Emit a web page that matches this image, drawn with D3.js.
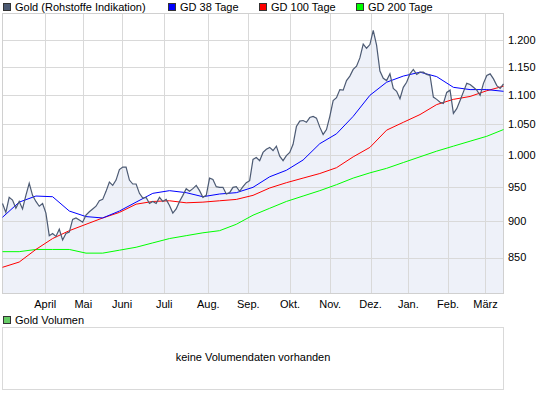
<!DOCTYPE html>
<html>
  <head>
    <script src="https://d3js.org/d3.v7.min.js"></script>
    <style>
      body { margin: 0; background: #fff; }
      text { font-family: Arial, "Liberation Sans", sans-serif; font-size: 11px; fill: #000; }
    </style>
  </head>
  <body>
    <div id="chart"></div>
  <script>
    var width = 545,
        height = 395;

    // gold close, one value per sample step
    var gold = [926, 913, 935, 931, 919, 929, 918, 938, 956, 938,
                929, 922, 926, 912, 880, 883, 879, 889, 874, 883,
                885, 903, 905, 902, 899, 909, 914, 918, 922, 930,
                932, 944, 958, 953, 961, 977, 981, 981, 961, 955,
                955, 941, 934, 935, 926, 929, 926, 935, 929, 932,
                923, 912, 918, 929, 938, 948, 944, 948, 953, 945,
                935, 938, 964, 962, 951, 950, 950, 940, 942, 950,
                951, 944, 951, 957, 960, 993, 996, 991, 1004, 1009,
                1012, 1007, 1014, 998, 991, 999, 1004, 1017, 1046, 1055,
                1056, 1053, 1061, 1063, 1060, 1045, 1033, 1041, 1063, 1090,
                1095, 1109, 1108, 1125, 1133, 1145, 1151, 1166, 1192, 1184,
                1191, 1218, 1190, 1142, 1129, 1125, 1137, 1111, 1106, 1093,
                1113, 1122, 1137, 1145, 1136, 1140, 1140, 1136, 1134, 1096,
                1092, 1087, 1085, 1104, 1108, 1068, 1076, 1090, 1105, 1120,
                1118, 1113, 1108, 1099, 1120, 1134, 1137, 1128, 1116, 1111,
                1119];

    // moving averages, every 5th sample
    var gd38 = [906, 928, 937, 936, 915, 907, 905, 915, 928, 941,
                945, 942, 936, 940, 942, 950, 966, 976, 992, 1018,
                1034, 1063, 1099, 1122, 1133, 1140, 1132, 1113, 1109, 1109,
                1106];
    var gd100 = [837, 844, 861, 876, 887, 896, 905, 913, 925, 929,
                 930, 927, 928, 930, 932, 938, 949, 957, 964, 971,
                 980, 997, 1012, 1040, 1053, 1066, 1083, 1092, 1097, 1107,
                 1115];
    var gd200 = [858, 858, 861, 861, 861, 856, 856, 860, 864, 870,
                 876, 880, 884, 887, 896, 909, 919, 929, 937, 945,
                 954, 964, 972, 979, 988, 997, 1006, 1014, 1022, 1030,
                 1041];

    var monthLabels = ["April", "Mai", "Juni", "Juli", "Aug.", "Sep.", "Okt.", "Nov.", "Dez.", "Jan.", "Feb.", "März"];
    var monthIdx = [12.8, 24.2, 35.8, 48.4, 61.6, 73.6, 86.1, 98.1, 110.2, 121.5, 133.4, 144.6];
    var yTicks = [850, 900, 950, 1000, 1050, 1100, 1150, 1200];

    var legendItems = [
      {name: "Gold (Rohstoffe Indikation)", color: "#4c5a73"},
      {name: "GD 38 Tage", color: "#0000ff"},
      {name: "GD 100 Tage", color: "#ff0000"},
      {name: "GD 200 Tage", color: "#00ff00"}
    ];
    var legendX = [3, 168, 259, 356];

    var plotL = 2.5, plotR = 503.5, plotT = 13.5, plotB = 293.5;

    var svg = d3.select("#chart").append("svg")
        .attr("width", width)
        .attr("height", height);

    var x = d3.scaleLinear().domain([0, gold.length - 1]).range([plotL, plotR]);
    var y = d3.scaleLog().domain([803, 1251]).range([plotB, plotT]);

    var de = d3.formatLocale({decimal: ",", thousands: ".", grouping: [3], currency: ["", " €"]});
    var fmt = de.format(",d");

    // fill under the gold line
    var area = d3.area()
        .x(function(d, i) { return x(i); })
        .y0(plotB)
        .y1(function(d) { return y(d); });

    svg.append("path")
        .datum(gold)
        .attr("d", area)
        .attr("fill", "#eef1f9");

    // grid
    var grid = svg.append("g");
    grid.selectAll("line.h")
        .data(yTicks)
        .enter().append("line")
        .attr("x1", plotL).attr("x2", plotR)
        .attr("y1", function(d) { return Math.round(y(d)) + 0.5; })
        .attr("y2", function(d) { return Math.round(y(d)) + 0.5; })
        .attr("stroke", "#d9d9d9");
    grid.selectAll("line.v")
        .data(monthIdx)
        .enter().append("line")
        .attr("x1", function(d) { return Math.round(x(d)) + 0.5; })
        .attr("x2", function(d) { return Math.round(x(d)) + 0.5; })
        .attr("y1", plotT).attr("y2", plotB)
        .attr("stroke", "#d9d9d9");

    svg.append("rect")
        .attr("x", plotL).attr("y", plotT)
        .attr("width", plotR - plotL).attr("height", plotB - plotT)
        .attr("fill", "none")
        .attr("stroke", "#d0d0d0");

    // moving averages
    var maLine = d3.line()
        .x(function(d, i) { return x(i * 5); })
        .y(function(d) { return y(d); });

    [[gd200, "#00ff00"], [gd100, "#ff0000"], [gd38, "#0000ff"]].forEach(function(s) {
      svg.append("path")
          .datum(s[0])
          .attr("d", maLine)
          .attr("fill", "none")
          .attr("stroke", s[1])
          .attr("stroke-width", 1);
    });

    // gold line
    var line = d3.line()
        .x(function(d, i) { return x(i); })
        .y(function(d) { return y(d); });

    svg.append("path")
        .datum(gold)
        .attr("d", line)
        .attr("fill", "none")
        .attr("stroke", "#4c5a73")
        .attr("stroke-width", 1.2);

    // y axis labels on the right
    svg.selectAll("text.ylab")
        .data(yTicks)
        .enter().append("text")
        .attr("x", 508)
        .attr("y", function(d) { return y(d); })
        .attr("dy", "0.35em")
        .text(function(d) { return fmt(d); });

    // month labels
    svg.selectAll("text.xlab")
        .data(monthIdx)
        .enter().append("text")
        .attr("x", function(d) { return x(d); })
        .attr("y", 304)
        .attr("dy", "0.35em")
        .attr("text-anchor", "middle")
        .text(function(d, i) { return monthLabels[i]; });

    // legend
    var leg = svg.selectAll("g.leg")
        .data(legendItems)
        .enter().append("g")
        .attr("transform", function(d, i) { return "translate(" + legendX[i] + ",0)"; });
    leg.append("rect")
        .attr("x", 0.5).attr("y", 3.5)
        .attr("width", 7).attr("height", 7)
        .attr("fill", function(d) { return d.color; })
        .attr("stroke", "#333");
    leg.append("text")
        .attr("x", 12).attr("y", 7)
        .attr("dy", "0.35em")
        .text(function(d) { return d.name; });

    // volume panel
    svg.append("rect")
        .attr("x", 3.5).attr("y", 316.5)
        .attr("width", 7).attr("height", 7)
        .attr("fill", "#66cc66")
        .attr("stroke", "#333");
    svg.append("text")
        .attr("x", 15).attr("y", 320)
        .attr("dy", "0.35em")
        .text("Gold Volumen");

    svg.append("rect")
        .attr("x", plotL).attr("y", 327.5)
        .attr("width", plotR - plotL).attr("height", 62)
        .attr("fill", "none")
        .attr("stroke", "#d9d9d9");
    svg.append("text")
        .attr("x", 253).attr("y", 357)
        .attr("dy", "0.35em")
        .attr("text-anchor", "middle")
        .text("keine Volumendaten vorhanden");
  </script>
  </body>
</html>
